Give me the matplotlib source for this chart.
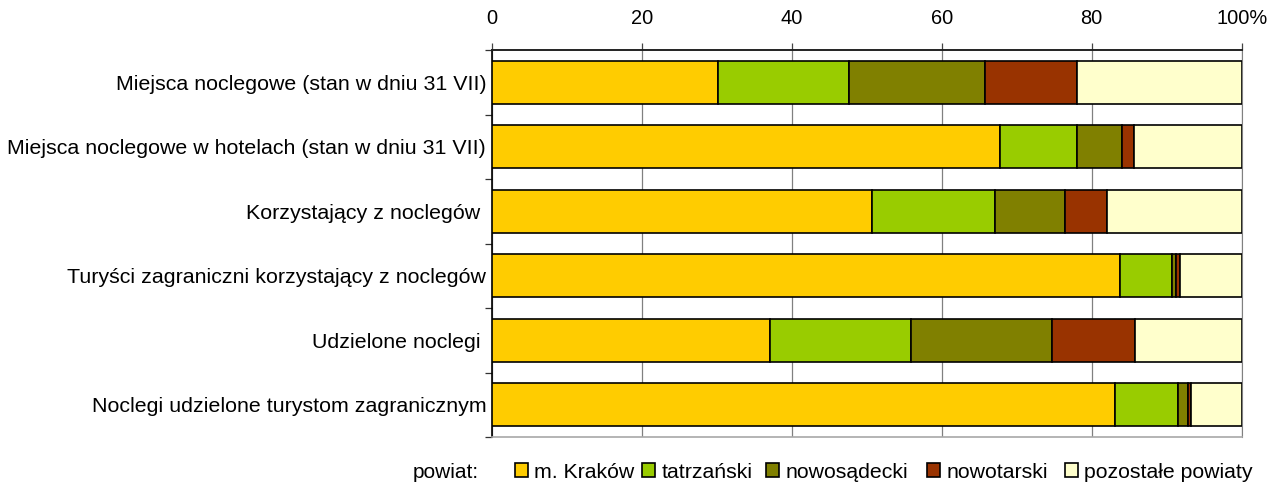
import matplotlib
matplotlib.use("Agg")
import matplotlib.pyplot as plt
from matplotlib.patches import Patch
import numpy as np

plt.rcParams['font.family'] = ['Liberation Sans', 'DejaVu Sans']

categories = [
    "Miejsca noclegowe (stan w dniu 31 VII)",
    "Miejsca noclegowe w hotelach (stan w dniu 31 VII)",
    "Korzystający z noclegów ",
    "Turyści zagraniczni korzystający z noclegów",
    "Udzielone noclegi ",
    "Noclegi udzielone turystom zagranicznym",
]
series_names = ["m. Kraków", "tatrzański", "nowosądecki", "nowotarski", "pozostałe powiaty"]
krakow      = [30.2, 67.8, 50.7, 83.8, 37.1, 83.1]
tatrzanski  = [17.4, 10.2, 16.4,  6.9, 18.8,  8.4]
nowosadecki = [18.2,  6.0,  9.4,  0.6, 18.8,  1.4]
nowotarski  = [12.2,  1.6,  5.6,  0.5, 11.1,  0.4]
pozostale   = [22.0, 14.4, 17.9,  8.2, 14.2,  6.7]
colors = ["#FFCC00", "#99CC00", "#808000", "#993300", "#FFFFCC"]
xticks = [0, 20, 40, 60, 80, 100]
xticklabels = ["0", "20", "40", "60", "80", "100%"]

W, H = 1282, 483
fig = plt.figure(figsize=(W/100, H/100), dpi=100)
ax = fig.add_axes([491.7/W, 1-437/H, (1241.7-491.7)/W, (437-50)/H])

y = np.arange(len(categories))
left = np.zeros(len(categories))
for vals, name, c in zip([krakow, tatrzanski, nowosadecki, nowotarski, pozostale], series_names, colors):
    ax.barh(y, vals, left=left, height=0.667, color=c, edgecolor="black", linewidth=1.2, label=name, zorder=3)
    left += np.array(vals)

ax.set_xlim(0, 100)
ax.set_ylim(len(categories)-0.5, -0.5)
ax.xaxis.tick_top()
ax.set_xticks(xticks)
ax.set_xticklabels(xticklabels, fontsize=14.4)
ax.tick_params(axis='x', direction='out', length=5.2, width=0.9, color='#444444', pad=11)
ax.grid(axis='x', color='#808080', linewidth=0.9, zorder=0)

ax.set_yticks(y)
ax.set_yticklabels(categories, fontsize=15.4)
ax.set_yticks(np.arange(-0.5, len(categories)), minor=True)
ax.tick_params(axis='y', which='major', length=0, pad=4)
ax.tick_params(axis='y', which='minor', length=5, width=0.9, color='#333333')

ax.spines['top'].set_linewidth(1.4)
ax.spines['top'].set_color('#222222')
ax.spines['left'].set_color('black')
ax.spines['left'].set_linewidth(1.2)
ax.spines['right'].set_color('#808080')
ax.spines['bottom'].set_color('#a8a8a8')
ax.spines['bottom'].set_linewidth(1.2)

fig.text(413/W, 1-472/H, "powiat:", fontsize=15, va='center', ha='left')
item_x = [515, 642, 766, 927, 1065]
for c, n, xpos in zip(colors, series_names, item_x):
    h = Patch(facecolor=c, edgecolor='black', linewidth=1.2, label=n)
    leg = fig.legend(handles=[h], loc='center left', bbox_to_anchor=(xpos/W, 1-472/H),
                     frameon=False, fontsize=15.3, handlelength=0.6, handleheight=0.6,
                     handletextpad=0.3, borderpad=0, borderaxespad=0)

fig.savefig("out.png", dpi=100)
